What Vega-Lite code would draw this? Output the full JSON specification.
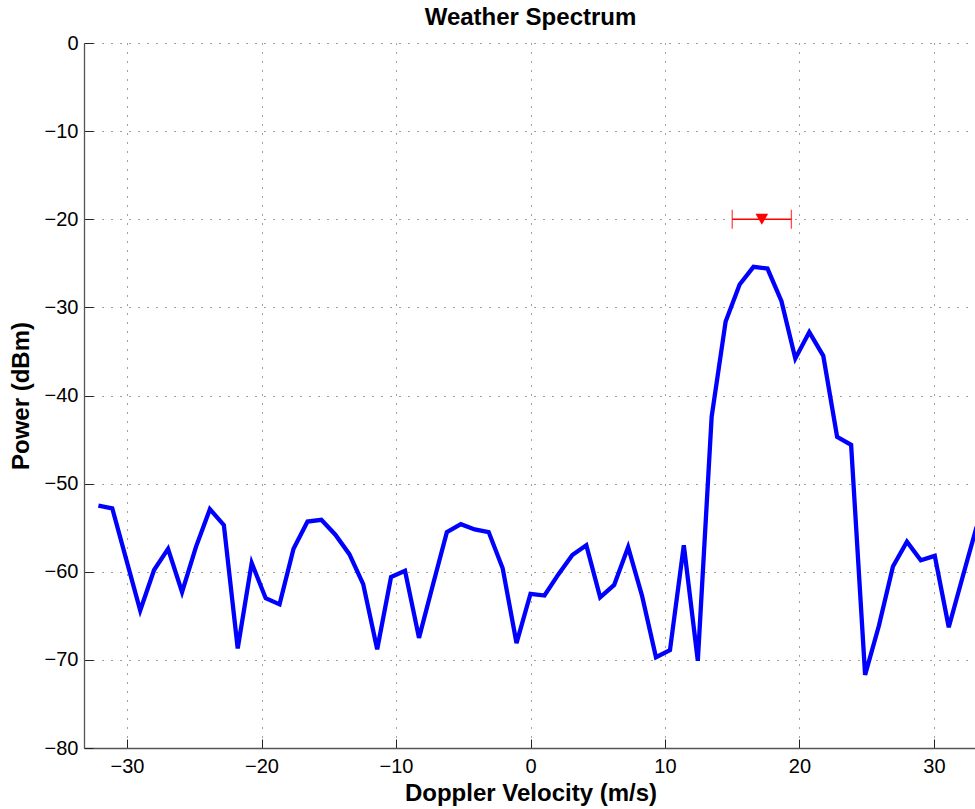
{
  "$schema": "https://vega.github.io/schema/vega-lite/v6.json",
  "autosize": "none",
  "padding": {"left": 84, "top": 43, "right": 0, "bottom": 61},
  "width": 893,
  "height": 705,
  "background": "white",
  "title": {"text": "Weather Spectrum", "font": "Liberation Sans", "fontSize": 24, "fontWeight": "bold", "color": "#000", "anchor": "middle", "offset": 3},
  "config": {
    "view": {"stroke": null},
    "axis": {
      "domainColor": "#555", "domainWidth": 1.3,
      "tickColor": "#222", "tickWidth": 1, "tickSize": -9,
      "gridColor": "#000", "gridDash": [1, 8], "gridWidth": 1, "gridOpacity": 0.75,
      "labelFont": "Liberation Sans", "labelFontSize": 20, "labelColor": "#000",
      "titleFont": "Liberation Sans", "titleFontSize": 24, "titleFontWeight": "bold", "titleColor": "#000"
    }
  },
  "datasets": {
    "spectrum": [
      {"v": -32.13, "p": -52.5}, {"v": -31.10, "p": -52.8}, {"v": -30.06, "p": -58.6}, {"v": -29.02, "p": -64.4},
      {"v": -27.99, "p": -59.8}, {"v": -26.95, "p": -57.4}, {"v": -25.91, "p": -62.3}, {"v": -24.88, "p": -57.2},
      {"v": -23.84, "p": -52.9}, {"v": -22.80, "p": -54.7}, {"v": -21.77, "p": -68.7}, {"v": -20.73, "p": -59.0},
      {"v": -19.69, "p": -63.0}, {"v": -18.66, "p": -63.7}, {"v": -17.62, "p": -57.4}, {"v": -16.58, "p": -54.3},
      {"v": -15.55, "p": -54.1}, {"v": -14.51, "p": -55.8}, {"v": -13.47, "p": -58.0}, {"v": -12.44, "p": -61.4},
      {"v": -11.40, "p": -68.8}, {"v": -10.37, "p": -60.6}, {"v": -9.33, "p": -59.9}, {"v": -8.29, "p": -67.5},
      {"v": -7.26, "p": -61.5}, {"v": -6.22, "p": -55.5}, {"v": -5.18, "p": -54.6}, {"v": -4.15, "p": -55.2},
      {"v": -3.11, "p": -55.5}, {"v": -2.07, "p": -59.6}, {"v": -1.04, "p": -68.1}, {"v": 0.0, "p": -62.5},
      {"v": 1.04, "p": -62.7}, {"v": 2.07, "p": -60.3}, {"v": 3.11, "p": -58.1}, {"v": 4.15, "p": -57.0},
      {"v": 5.18, "p": -62.9}, {"v": 6.22, "p": -61.5}, {"v": 7.26, "p": -57.2}, {"v": 8.29, "p": -62.7},
      {"v": 9.33, "p": -69.7}, {"v": 10.37, "p": -68.9}, {"v": 11.40, "p": -57.0}, {"v": 12.44, "p": -70.1},
      {"v": 13.47, "p": -42.4}, {"v": 14.51, "p": -31.6}, {"v": 15.55, "p": -27.4}, {"v": 16.58, "p": -25.4},
      {"v": 17.62, "p": -25.6}, {"v": 18.66, "p": -29.3}, {"v": 19.69, "p": -35.8}, {"v": 20.73, "p": -32.8},
      {"v": 21.77, "p": -35.5}, {"v": 22.80, "p": -44.7}, {"v": 23.84, "p": -45.6}, {"v": 24.88, "p": -71.7},
      {"v": 25.91, "p": -66.1}, {"v": 26.95, "p": -59.4}, {"v": 27.99, "p": -56.6}, {"v": 29.02, "p": -58.7},
      {"v": 30.06, "p": -58.2}, {"v": 31.10, "p": -66.3}, {"v": 32.13, "p": -60.6}, {"v": 33.17, "p": -54.9}
    ],
    "moment": [
      {"v": 17.2, "lo": 15.0, "hi": 19.4, "p": -20}
    ]
  },
  "layer": [
    {
      "data": {"name": "spectrum"},
      "mark": {"type": "line", "color": "#0000ff", "strokeWidth": 4.3, "strokeJoin": "miter", "clip": true},
      "encoding": {
        "x": {"field": "v", "type": "quantitative",
              "scale": {"domain": [-33.2, 33.2], "nice": false, "zero": false},
              "axis": {"title": "Doppler Velocity (m/s)", "values": [-30, -20, -10, 0, 10, 20, 30], "format": "d", "labelPadding": 17, "titlePadding": 5, "grid": true}},
        "y": {"field": "p", "type": "quantitative",
              "scale": {"domain": [-80, 0], "nice": false, "zero": false},
              "axis": {"title": "Power (dBm)", "values": [-80, -70, -60, -50, -40, -30, -20, -10, 0], "format": "d", "labelPadding": 15, "titlePadding": 11, "grid": true}}
      }
    },
    {
      "data": {"name": "moment"},
      "mark": {"type": "errorbar", "color": "#ff0000", "thickness": 1.3, "ticks": {"size": 19, "color": "#ff0000", "thickness": 1.3}},
      "encoding": {
        "x": {"field": "lo", "type": "quantitative", "title": "Doppler Velocity (m/s)"},
        "x2": {"field": "hi"},
        "y": {"field": "p", "type": "quantitative", "title": "Power (dBm)"}
      }
    },
    {
      "data": {"name": "moment"},
      "mark": {"type": "point", "shape": "triangle-down", "filled": true, "color": "#ff0000", "opacity": 1, "size": 160},
      "encoding": {
        "x": {"field": "v", "type": "quantitative", "title": "Doppler Velocity (m/s)"},
        "y": {"field": "p", "type": "quantitative", "title": "Power (dBm)"}
      }
    }
  ]
}
